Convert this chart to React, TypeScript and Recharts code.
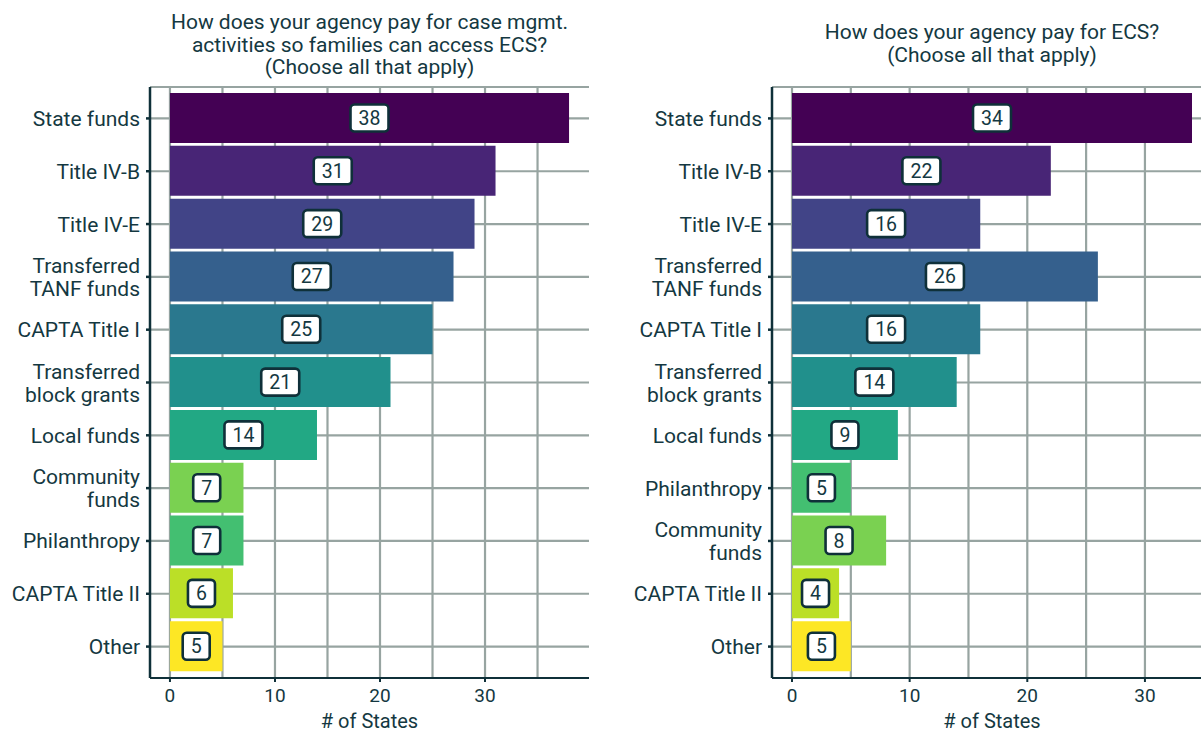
import { BarChart, Bar, XAxis, YAxis, CartesianGrid, Cell, LabelList } from "recharts"

const leftTitle = ["How does your agency pay for case mgmt.", "activities so families can access ECS?", "(Choose all that apply)"]
const rightTitle = ["How does your agency pay for ECS?", "(Choose all that apply)"]

const leftCategories = [
  "State funds",
  "Title IV-B",
  "Title IV-E",
  "Transferred\nTANF funds",
  "CAPTA Title I",
  "Transferred\nblock grants",
  "Local funds",
  "Community\nfunds",
  "Philanthropy",
  "CAPTA Title II",
  "Other",
]
const leftValues = [38, 31, 29, 27, 25, 21, 14, 7, 7, 6, 5]

const rightCategories = [
  "State funds",
  "Title IV-B",
  "Title IV-E",
  "Transferred\nTANF funds",
  "CAPTA Title I",
  "Transferred\nblock grants",
  "Local funds",
  "Philanthropy",
  "Community\nfunds",
  "CAPTA Title II",
  "Other",
]
const rightValues = [34, 22, 16, 26, 16, 14, 9, 5, 8, 4, 5]

// viridis, one colour per funding source
const colorCategories = [
  "State funds",
  "Title IV-B",
  "Title IV-E",
  "Transferred\nTANF funds",
  "CAPTA Title I",
  "Transferred\nblock grants",
  "Local funds",
  "Philanthropy",
  "Community\nfunds",
  "CAPTA Title II",
  "Other",
]
const colorValues = [
  "#440154", "#482576", "#414487", "#35608D", "#2A788E", "#21908C",
  "#22A884", "#43BF71", "#7AD151", "#BBDF27", "#FDE725",
]

const xTicks = [0, 10, 20, 30]
const gridValues = [0, 5, 10, 15, 20, 25, 30, 35]

const INK = "#143841"
const AXIS = "#0f3039"
const GRID = "#97a4a1"
const FONT = "Roboto, sans-serif"

const colorOf = (cat: string) => colorValues[colorCategories.indexOf(cat)]

const CategoryTick = ({ x, y, payload }: any) => {
  const lines = String(payload.value).split("\n")
  const lh = 23
  const start = -((lines.length - 1) * lh) / 2
  return (
    <text x={x} y={y} textAnchor="end" fill={INK} fontSize={21} fontFamily={FONT}>
      {lines.map((l, i) => (
        <tspan key={i} x={x} dy={i === 0 ? start + 7.5 : lh}>
          {l}
        </tspan>
      ))}
    </text>
  )
}

const ValueBox = ({ x, y, width, height, value }: any) => {
  const cx = x + width / 2
  const cy = y + height / 2
  const w = String(value).length * 11 + 16
  const h = 27
  return (
    <g>
      <rect x={cx - w / 2} y={cy - h / 2} width={w} height={h} rx={4} fill="#fff" stroke={AXIS} strokeWidth={2.6} />
      <text x={cx} y={cy + 7} textAnchor="middle" fill={INK} fontSize={19.5} fontFamily={FONT}>
        {value}
      </text>
    </g>
  )
}

const gridX = ({ xAxis }: any) =>
  gridValues.map((v) => (typeof xAxis.scale === "function" ? xAxis.scale(v) : xAxis.scale.map(v)))

function Panel({
  categories,
  values,
  domain,
  width,
  yWidth,
  rightMargin,
}: {
  categories: string[]
  values: number[]
  domain: [number, number]
  width: number
  yWidth: number
  rightMargin: number
}) {
  const data = categories.map((c, i) => ({ name: c, value: values[i] }))
  return (
    <BarChart
      layout="vertical"
      width={width}
      height={732}
      data={data}
      margin={{ top: 87, right: rightMargin, bottom: 0, left: 0 }}
    >
      <CartesianGrid stroke={GRID} strokeWidth={2.2} verticalCoordinatesGenerator={gridX} />
      <XAxis
        type="number"
        domain={domain}
        allowDataOverflow
        ticks={xTicks}
        height={54}
        tickSize={4}
        tickMargin={7}
        stroke={AXIS}
        axisLine={{ stroke: AXIS, strokeWidth: 2 }}
        tickLine={{ stroke: AXIS, strokeWidth: 2 }}
        tick={{ fill: INK, fontSize: 19, fontFamily: FONT }}
        label={{ value: "# of States", position: "insideBottom", offset: 4, fill: INK, fontSize: 20, fontFamily: FONT }}
      />
      <YAxis
        type="category"
        dataKey="name"
        width={yWidth}
        padding={{ top: 5, bottom: 5 }}
        tickSize={4}
        tickMargin={6}
        axisLine={{ stroke: AXIS, strokeWidth: 2.5 }}
        tickLine={{ stroke: AXIS, strokeWidth: 2.5 }}
        tick={<CategoryTick />}
        interval={0}
      />
      <Bar dataKey="value" barSize={50} isAnimationActive={false}>
        {data.map((d, i) => (
          <Cell key={i} fill={colorOf(d.name)} />
        ))}
        <LabelList dataKey="value" content={<ValueBox />} />
      </Bar>
    </BarChart>
  )
}

const titleStyle = (top: number, left: number, width: number): React.CSSProperties => ({
  position: "absolute",
  top,
  left,
  width,
  textAlign: "center",
  fontSize: 21,
  lineHeight: "22.5px",
  color: INK,
  fontFamily: FONT,
})

export default function App() {
  return (
    <div style={{ position: "absolute", left: 0, top: 0, width: 1201, height: 732, overflow: "hidden", background: "#fff" }}>
      <div style={{ position: "absolute", left: 0, top: 0 }}>
        <Panel categories={leftCategories} values={leftValues} domain={[-1.9, 39.9]} width={600} yWidth={150} rightMargin={11} />
      </div>
      <div style={{ position: "absolute", left: 600, top: 0, width: 601, height: 732, overflow: "hidden" }}>
        <Panel categories={rightCategories} values={rightValues} domain={[-1.7, 35.7]} width={612} yWidth={172} rightMargin={0} />
      </div>
      <div style={titleStyle(11, 150, 439)}>
        {leftTitle.map((l, i) => (
          <div key={i}>{l}</div>
        ))}
      </div>
      <div style={titleStyle(21, 772, 440)}>
        {rightTitle.map((l, i) => (
          <div key={i}>{l}</div>
        ))}
      </div>
    </div>
  )
}
